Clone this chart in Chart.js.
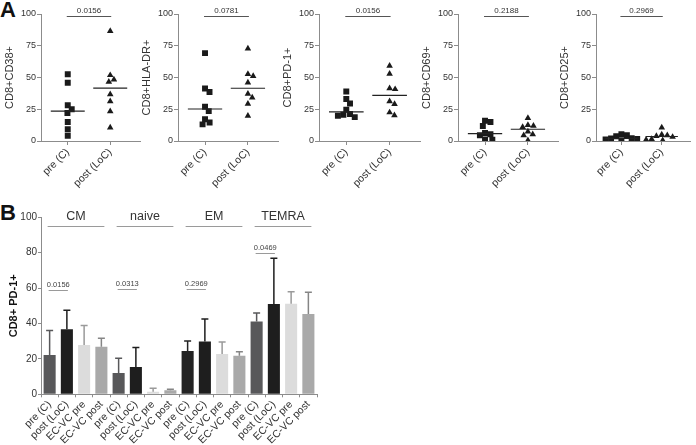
<!DOCTYPE html>
<html><head><meta charset="utf-8">
<script src="https://cdn.jsdelivr.net/npm/chart.js@4/dist/chart.umd.min.js"></script>
<style>
html,body{margin:0;padding:0;background:#fff;width:696px;height:445px;overflow:hidden;position:relative;}
canvas{position:absolute;}
.plabel{position:absolute;font:bold 22px "Liberation Sans",Arial,sans-serif;line-height:22px;color:#111;}
</style></head><body>
<div class="plabel" style="left:0px;top:-1px">A</div>
<div class="plabel" style="left:0px;top:202px">B</div>
<script>
// ---------------- DATA ----------------
const scatterLabels = ['pre (C)', 'post (LoC)'];
const markerTitles = ['CD8+CD38+', 'CD8+HLA-DR+', 'CD8+PD-1+', 'CD8+CD69+', 'CD8+CD25+'];
const pValuesA = ['0.0156', '0.0781', '0.0156', '0.2188', '0.2969'];
const yTicksA = [0, 25, 50, 75, 100];

const cd38Pre  = [52.6, 45.8, 28.2, 25.0, 22.1, 15.0, 9.2, 4.2];
const cd38Post = [86.6, 51.8, 48.4, 46.6, 36.8, 31.3, 23.4, 10.5];
const hladrPre  = [69.2, 41.3, 38.6, 26.9, 23.5, 17.2, 14.6, 13.1];
const hladrPost = [72.8, 52.7, 51.2, 46.0, 37.1, 34.2, 29.2, 19.8];
const pd1Pre  = [39.0, 33.0, 29.6, 24.6, 21.2, 20.7, 19.9, 18.8];
const pd1Post = [59.2, 52.9, 41.4, 40.8, 31.2, 29.1, 22.5, 20.2];
const cd69Pre  = [16.0, 15.0, 11.8, 6.3, 5.3, 4.5, 1.2, 1.0];
const cd69Post = [18.0, 12.5, 12.0, 11.0, 7.5, 5.2, 4.5, 0.5];
const cd25Pre  = [5.3, 4.5, 3.7, 2.2, 2.0, 1.6, 1.2, 0.5];
const cd25Post = [10.5, 5.0, 4.5, 3.9, 3.2, 1.5, 1.0, 0.5];

const subsets = ['CM', 'naive', 'EM', 'TEMRA'];
const conditions = ['pre (C)', 'post (LoC)', 'EC-VC pre', 'EC-VC post'];
const preC        = [22.2, 12.0, 24.5, 41.1];
const preCErr     = [13.8, 8.3, 5.6, 4.9];
const postLoC     = [36.7, 15.4, 29.8, 51.0];
const postLoCErr  = [10.8, 11.0, 12.8, 25.8];
const ecvcPre     = [27.9, 1.5, 22.8, 51.2];
const ecvcPreErr  = [10.9, 1.9, 6.8, 6.8];
const ecvcPost    = [26.9, 2.3, 21.8, 45.4];
const ecvcPostErr = [4.7, 0.5, 2.3, 12.2];
const pValuesB = ['0.0156', '0.0313', '0.2969', '0.0469'];
const pLevelB  = [59, 59.5, 59.5, 80];
const yTicksB = [0, 20, 40, 60, 80, 100];

// ---------------- STYLE ----------------
const F = '"Liberation Sans", Arial, sans-serif';
Chart.defaults.font.family = F;
const AX = '#8c8c8c', TX = '#333';

function median(a){const s=[...a].sort((p,q)=>p-q);const n=s.length;return n%2?s[(n-1)/2]:(s[n/2-1]+s[n/2])/2;}
function swarm(values, center, unitX, unitY, D){
  const placed=[];
  return values.map(v=>{
    const py=v*unitY; const cands=[0];
    placed.forEach(p=>{const dy=Math.abs(p.py-py); if(dy<D){const dx=Math.sqrt(D*D-dy*dy); cands.push(p.px+dx,p.px-dx);}});
    cands.sort((a,b)=>Math.abs(a)-Math.abs(b));
    const px=cands.find(c=>placed.every(p=>(p.px-c)**2+(p.py-py)**2>=D*D-0.01));
    placed.push({px,py});
    return {x:center+px/unitX, y:v};
  });
}

// ---------------- PANEL A ----------------
const panelsA = [
  [cd38Pre, cd38Post], [hladrPre, hladrPost], [pd1Pre, pd1Post], [cd69Pre, cd69Post], [cd25Pre, cd25Post]
];
const axisLeft = [41, 178, 319, 458, 596], axisRight = [145, 283, 425, 563, 695];
const A_TOP = 14, A_BOTTOM = 141, A_H = 190, YAXW = 41;
const XMIN = -0.63, XMAX = 1.72;

const annA = {
  id: 'annA',
  afterDatasetsDraw(chart, args, o){
    const {ctx, scales:{x, y}} = chart;
    ctx.save();
    ctx.strokeStyle = '#222'; ctx.lineWidth = 1.2;
    o.series.forEach((vals,k)=>{
      const yy = y.getPixelForValue(median(vals));
      ctx.beginPath(); ctx.moveTo(x.getPixelForValue(k-0.4), yy); ctx.lineTo(x.getPixelForValue(k+0.4), yy); ctx.stroke();
    });
    const ly = Math.round(y.getPixelForValue(98.8))+0.5;
    const x0 = x.getPixelForValue(0)-1, x1 = x.getPixelForValue(1)+1;
    ctx.strokeStyle = '#555'; ctx.lineWidth = 1;
    ctx.beginPath(); ctx.moveTo(x0, ly); ctx.lineTo(x1, ly); ctx.stroke();
    ctx.fillStyle = TX; ctx.font = '8px ' + F; ctx.textAlign = 'center'; ctx.textBaseline = 'middle';
    ctx.fillText(o.p, (x0+x1)/2, y.getPixelForValue(102.3));
    ctx.restore();
  }
};

panelsA.forEach((pn, i)=>{
  const w = axisRight[i]-axisLeft[i]+YAXW;
  const cv = document.createElement('canvas');
  cv.width = w; cv.height = A_H;
  cv.style.left = (axisLeft[i]-YAXW)+'px'; cv.style.top = '0px';
  document.body.appendChild(cv);
  const unitX = (axisRight[i]-axisLeft[i])/(XMAX-XMIN);
  const unitY = (A_BOTTOM-A_TOP)/100;
  const pre = swarm(pn[0], 0, unitX, unitY, 5.8);
  const post = swarm(pn[1], 1, unitX, unitY, 5.8);
  new Chart(cv, {
    type: 'scatter',
    data: {datasets: [
      {data: pre, pointStyle: 'rect', pointRadius: 4.2, backgroundColor: '#1a1a1a', borderColor: '#1a1a1a', borderWidth: 0},
      {data: post, pointStyle: 'triangle', pointRadius: 3.8, backgroundColor: '#1a1a1a', borderColor: '#1a1a1a', borderWidth: 0}
    ]},
    options: {
      responsive: false, animation: false, devicePixelRatio: 1,
      layout: {padding: {top: A_TOP, right: 0, bottom: 0, left: 0}},
      plugins: {legend: {display: false}, tooltip: {enabled: false}, annA: {series: pn, p: pValuesA[i]}},
      scales: {
        x: {type: 'linear', min: XMIN, max: XMAX,
            afterBuildTicks: s => { s.ticks = scatterLabels.map((l,k)=>({value:k})); },
            afterFit: s => { s.height = A_H - A_BOTTOM; },
            grid: {drawOnChartArea: false, tickLength: 4, color: AX},
            border: {color: AX},
            ticks: {autoSkip: false, minRotation: 45, maxRotation: 45, padding: 1, color: TX, font: {size: 10.5}},
            },
        y: {min: 0, max: 100,
            afterBuildTicks: s => { s.ticks = yTicksA.map(v=>({value:v})); },
            afterFit: s => { s.width = YAXW; },
            grid: {drawOnChartArea: false, tickLength: 4, color: AX},
            border: {color: AX},
            ticks: {padding: 1, color: TX, font: {size: 9}},
            title: {display: true, text: markerTitles[i], color: TX, font: {size: 11}, padding: {top: 3.5, bottom: 0}}}
      }
    },
    plugins: [annA]
  });
  // tick label text from the array
  const ch = Chart.getChart(cv);
  ch.options.scales.x.ticks.callback = v => scatterLabels[v];
  ch.update();
});

// ---------------- PANEL B ----------------
const seriesB = [preC, postLoC, ecvcPre, ecvcPost];
const errB = [preCErr, postLoCErr, ecvcPreErr, ecvcPostErr];
const condFill = ['#58585a', '#1e1e1e', '#dcdcdc', '#a9a9a9'];
const condErr  = ['#58585a', '#1e1e1e', '#9a9a9a', '#858585'];
const fillFor = (g,k) => (subsets[g]==='EM' && k===0) ? '#232323' : condFill[k];
const errFor  = (g,k) => (subsets[g]==='EM' && k===0) ? '#232323' : condErr[k];

const labelsB = [], valsB = [], errsB = [], fillsB = [], errColsB = [];
subsets.forEach((s,g)=>conditions.forEach((c,k)=>{
  labelsB.push(c); valsB.push(seriesB[k][g]); errsB.push(errB[k][g]);
  fillsB.push(fillFor(g,k)); errColsB.push(errFor(g,k));
}));

const cvB = document.createElement('canvas');
cvB.width = 330; cvB.height = 255; cvB.style.left = '0px'; cvB.style.top = '190px';
document.body.appendChild(cvB);

const annB = {
  id: 'annB',
  afterDatasetsDraw(chart){
    const {ctx, scales:{x, y}, chartArea} = chart;
    ctx.save();
    const meta = chart.getDatasetMeta(0);
    meta.data.forEach((bar,i)=>{
      const top = y.getPixelForValue(valsB[i]+errsB[i]);
      ctx.strokeStyle = errColsB[i]; ctx.lineWidth = 1.5;
      ctx.beginPath();
      ctx.moveTo(bar.x, bar.y); ctx.lineTo(bar.x, top);
      ctx.moveTo(bar.x-3.5, top); ctx.lineTo(bar.x+3.5, top);
      ctx.stroke();
    });
    subsets.forEach((s,g)=>{
      const x0 = x.getPixelForValue(g*4)-2, x1 = x.getPixelForValue(g*4+3)+3;
      const ly = Math.round(chartArea.top+8.4)+0.5;
      ctx.strokeStyle = '#9a9a9a'; ctx.lineWidth = 1;
      ctx.beginPath(); ctx.moveTo(x0, ly); ctx.lineTo(x1, ly); ctx.stroke();
      ctx.fillStyle = TX; ctx.font = '12.5px ' + F; ctx.textAlign = 'center'; ctx.textBaseline = 'middle';
      ctx.fillText(s, (x0+x1)/2, chartArea.top-0.3);
      const px0 = x.getPixelForValue(g*4)-1, px1 = x.getPixelForValue(g*4+1)+1;
      const py = Math.round(y.getPixelForValue(pLevelB[g]))+0.5;
      ctx.strokeStyle = '#9a9a9a';
      ctx.beginPath(); ctx.moveTo(px0, py); ctx.lineTo(px1, py); ctx.stroke();
      ctx.fillStyle = '#444'; ctx.font = '7.5px ' + F;
      ctx.fillText(pValuesB[g], (px0+px1)/2, py-6);
    });
    ctx.restore();
  }
};

new Chart(cvB, {
  type: 'bar',
  data: {labels: labelsB, datasets: [{data: valsB, backgroundColor: fillsB, borderWidth: 0, barPercentage: 0.7, categoryPercentage: 1}]},
  options: {
    responsive: false, animation: false, devicePixelRatio: 1,
    layout: {padding: {top: 27.3, right: 13, bottom: 0, left: 0}},
    plugins: {legend: {display: false}, tooltip: {enabled: false}},
    scales: {
      x: {afterFit: s => { s.height = 255 - 204.3; },
          grid: {drawOnChartArea: false, tickLength: 3, color: AX},
          border: {color: AX},
          ticks: {autoSkip: false, minRotation: 45, maxRotation: 45, padding: 1, color: TX, font: {size: 10.5}}},
      y: {min: 0, max: 100,
          afterBuildTicks: s => { s.ticks = yTicksB.map(v=>({value:v})); },
          afterFit: s => { s.width = YAXW; },
          grid: {drawOnChartArea: false, tickLength: 3, color: AX},
          border: {color: AX},
          ticks: {padding: 1, color: TX, font: {size: 10}},
          title: {display: true, text: 'CD8+ PD-1+', color: '#111', font: {size: 11, weight: 'bold'}, padding: {top: 7.5, bottom: 0}}}
    }
  },
  plugins: [annB]
});
</script>
</body></html>
